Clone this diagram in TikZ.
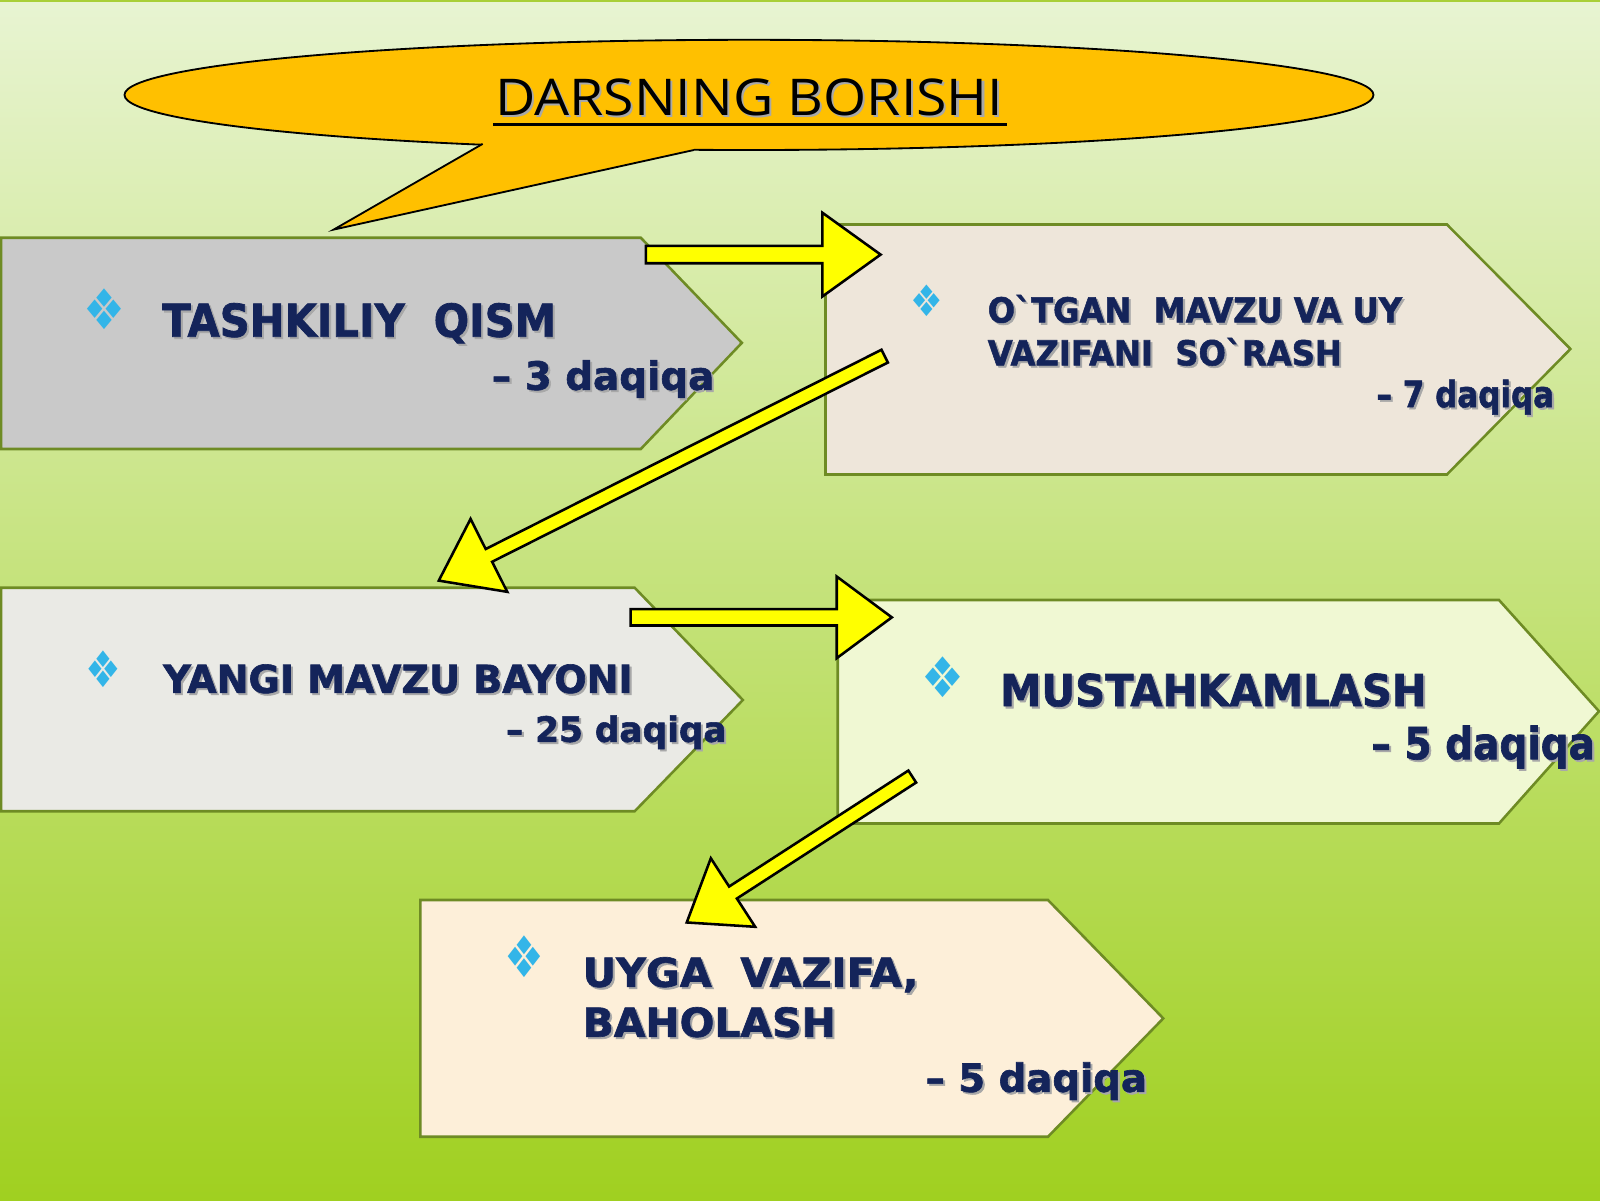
\documentclass[tikz,border=0pt]{standalone}
\usepackage{fontspec}
\usepackage{graphicx}
\usetikzlibrary{calc}
\newfontfamily\boxfont{DejaVu Sans}[BoldFeatures={FakeBold=1.6}]
\newfontfamily\titlefont{Open Sans}
\newfontfamily\symfont{DejaVu Sans}
\definecolor{navytext}{HTML}{14245A}
\definecolor{shadowgray}{HTML}{A8A8A8}
\definecolor{boxline}{HTML}{6E8B24}
\definecolor{arrowyellow}{HTML}{FFFF00}
\definecolor{calloutfill}{HTML}{FFC000}
\definecolor{bulletblue}{HTML}{33B5E8}
\definecolor{bgtop}{HTML}{E8F4D2}
\definecolor{bgmid}{HTML}{C9E684}
\definecolor{bgbot}{HTML}{A0D020}
\definecolor{fillA}{HTML}{C9C9C9}
\definecolor{fillB}{HTML}{EEE6DA}
\definecolor{fillC}{HTML}{EAEAE5}
\definecolor{fillD}{HTML}{F0F8D3}
\definecolor{fillE}{HTML}{FDEFD9}
\definecolor{framegreen}{HTML}{A9CF38}
% name, x, baseline y, width, height, text
\newcommand\shtext[6]{%
  \node[txtshadow, anchor=base west] (#1s) at (#2+2,#3+2) {\resizebox{#4pt}{#5pt}{#6}};
  \node[txtmain, anchor=base west] (#1) at (#2,#3) {\resizebox{#4pt}{#5pt}{#6}};
}
% name, x, y, width, height
\newcommand\bulletmark[5]{%
  \node[bulletnode] (#1) at (#2,#3) {\resizebox*{#4pt}{#5pt}{\symfont ❖}};
}
% start, tip, shaft half width, head length, head half width
\newcommand\blockarrow[5]{%
  \coordinate (hb) at ($(#2)!#4!(#1)$);
  \draw[blockarr] ($(#1)!#3!90:(#2)$) -- ($(hb)!#3!-90:(#1)$) -- ($(hb)!#5!-90:(#1)$)
    -- (#2) -- ($(hb)!#5!90:(#1)$) -- ($(hb)!#3!90:(#1)$) -- ($(#1)!#3!-90:(#2)$) -- cycle;
}
\begin{document}
\begin{tikzpicture}[x=1pt,y=-1pt,
  txtmain/.style={inner sep=0pt, outer sep=0pt, text=navytext, font=\boxfont\bfseries},
  txtshadow/.style={inner sep=0pt, outer sep=0pt, text=shadowgray, font=\boxfont\bfseries},
  bulletnode/.style={inner sep=0pt, outer sep=0pt, text=bulletblue},
  pentbox/.style={draw=boxline, line width=2.5pt, line join=miter},
  blockarr/.style={fill=arrowyellow, draw=black, line width=2.5pt, line join=miter},
  callout/.style={fill=calloutfill, draw=black, line width=1.8pt}]
\useasboundingbox (0,0) rectangle (1568,1176);
% background
\shade[top color=bgtop, middle color=bgmid, bottom color=bgbot] (0,0) rectangle (1568,1176);
\draw[framegreen, line width=2.5pt] (0,1) -- (1568,1);

% callout
\draw[callout] (734,93) ellipse [x radius=612, y radius=54];
\fill[calloutfill] (473,128) -- (473,141) -- (327,225) -- (680,147) -- (680,128) -- cycle;
\draw[black, line width=1.8pt, line join=miter] (473,141) -- (327,225) -- (680,147);
\node[inner sep=0pt, anchor=base west, text=shadowgray, font=\titlefont] (titles) at (487,115) {\resizebox{498pt}{36pt}{DARSNING BORISHI}};
\node[inner sep=0pt, anchor=base west, text=black, font=\titlefont] (title) at (485,113) {\resizebox{498pt}{36pt}{DARSNING BORISHI}};
\draw[black, line width=3pt] (483,122) -- (987,122);

% boxes
\draw[pentbox, fill=fillA] (1,233) -- (628,233) -- (727,336) -- (628,440) -- (1,440) -- cycle;
\draw[pentbox, fill=fillB] (809,220) -- (1418,220) -- (1539,342) -- (1418,465) -- (809,465) -- cycle;
\draw[pentbox, fill=fillC] (1,576) -- (622,576) -- (728,686) -- (622,795) -- (1,795) -- cycle;
\draw[pentbox, fill=fillD] (821,588) -- (1469,588) -- (1567,697) -- (1469,807) -- (821,807) -- cycle;
\draw[pentbox, fill=fillE] (412,882) -- (1027,882) -- (1140,998) -- (1027,1114) -- (412,1114) -- cycle;

% bullets
\bulletmark{b1}{102}{303}{41}{40}
\bulletmark{b2}{908}{295}{32}{31}
\bulletmark{b3}{101}{656}{35}{36}
\bulletmark{b4}{924}{664}{42}{40}
\bulletmark{b5}{514}{938}{39}{41}

% texts
\shtext{t1a}{159}{330}{386}{33}{TASHKILIY\ \ QISM}
\shtext{t1b}{482}{382}{218}{29}{– 3 daqiqa}
\shtext{t2a}{968}{316}{406}{25}{O\smash{`}TGAN\ \ MAVZU VA UY}
\shtext{t2b}{968}{358}{347}{25}{VAZIFANI\ \ SO\smash{`}RASH}
\shtext{t2c}{1349}{399}{174}{27}{– 7 daqiqa}
\shtext{t3a}{160}{679}{460}{28}{YANGI MAVZU BAYONI}
\shtext{t3b}{496}{727}{216}{26}{– 25 daqiqa}
\shtext{t4a}{980}{692}{418}{32}{MUSTAHKAMLASH}
\shtext{t4b}{1344}{744}{219}{33}{– 5 daqiqa}
\shtext{t5a}{571}{967}{329}{29}{UYGA\ \ VAZIFA,}
\shtext{t5b}{571}{1016}{248}{29}{BAHOLASH}
\shtext{t5c}{907}{1070}{217}{29}{– 5 daqiqa}

% arrows
\coordinate (a1s) at (633,249.5);
\coordinate (a1t) at (863,249.5);
\coordinate (a2s) at (867,349);
\coordinate (a2t) at (430,569);
\coordinate (a3s) at (618,605);
\coordinate (a3t) at (874,605);
\coordinate (a4s) at (894,761);
\coordinate (a4t) at (673,904);
\blockarrow{a1s}{a1t}{8.5pt}{57pt}{41pt}
\blockarrow{a2s}{a2t}{7pt}{55pt}{40pt}
\blockarrow{a3s}{a3t}{8pt}{54pt}{40pt}
\blockarrow{a4s}{a4t}{7pt}{54pt}{40pt}
\end{tikzpicture}
\end{document}
